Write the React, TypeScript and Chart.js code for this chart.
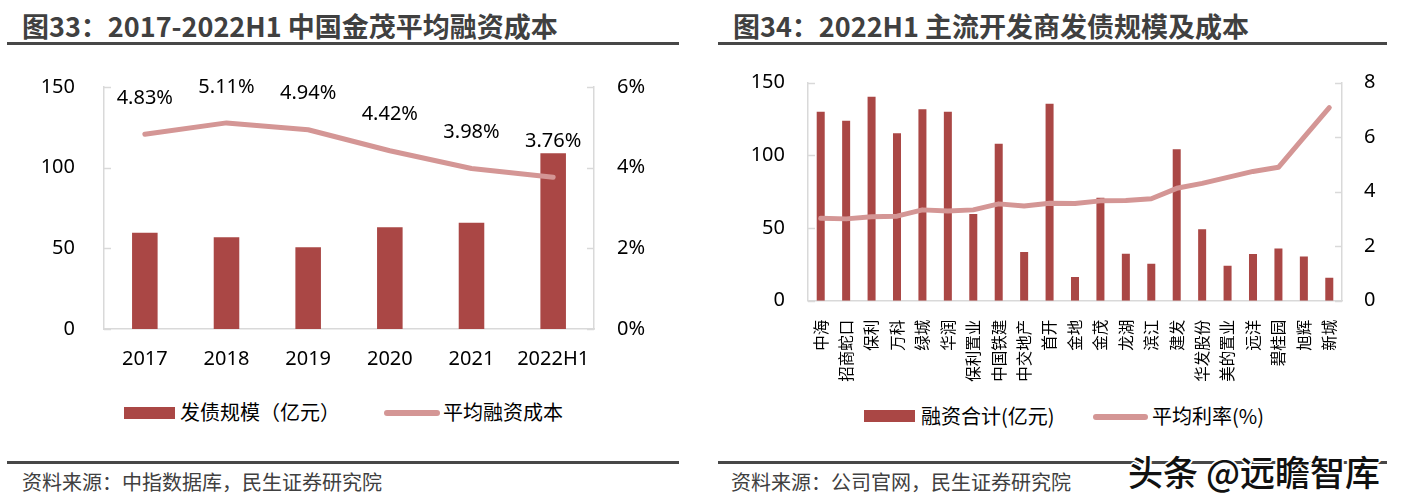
import React, { useEffect, useRef } from "react";
import { Chart, registerables } from "chart.js";

Chart.register(...registerables);

// ---------- Data ----------
const leftCategories = ["2017", "2018", "2019", "2020", "2021", "2022H1"];
const leftIssuance = [59.7, 56.8, 50.6, 63.0, 65.9, 108.9]; // 发债规模（亿元）
const leftCost = [4.83, 5.11, 4.94, 4.42, 3.98, 3.76]; // 平均融资成本 (%)

const rightCategories = [
  "中海", "招商蛇口", "保利", "万科", "绿城", "华润", "保利置业", "中国铁建",
  "中交地产", "首开", "金地", "金茂", "龙湖", "滨江", "建发", "华发股份",
  "美的置业", "远洋", "碧桂园", "旭辉", "新城",
];
const rightFinancing = [
  129.9, 123.7, 140.2, 115.1, 131.6, 129.9, 59.6, 107.9, 33.5, 135.4, 16.3,
  70.8, 32.3, 25.4, 104.1, 49.1, 24.1, 32.1, 35.8, 30.3, 15.8,
]; // 融资合计(亿元)
const rightRate = [
  3.02, 3.0, 3.08, 3.1, 3.33, 3.29, 3.33, 3.55, 3.47, 3.57, 3.56, 3.66, 3.67,
  3.74, 4.12, 4.3, 4.52, 4.74, 4.89, 5.99, 7.08,
]; // 平均利率(%)

const leftAxisMax = 150;
const leftAxisStep = 50;
const leftRightAxisMax = 6;
const leftRightAxisStep = 2;
const rightAxisMax = 150;
const rightAxisStep = 50;
const rightRightAxisMax = 8;
const rightRightAxisStep = 2;

// ---------- Styles ----------
const BAR = "#AA4745";
const LINE = "#D49695";
const AXIS = "#D9D9D9";
const NUM_FONT = "'Noto Sans', 'Noto Sans CJK SC', sans-serif";
const CJK_FONT = "'Noto Sans CJK SC', 'Noto Sans', sans-serif";

const innerTicks = {
  id: "innerTicks",
  afterDraw(chart: any) {
    const ctx = chart.ctx;
    ctx.save();
    ctx.strokeStyle = AXIS;
    ctx.lineWidth = 1.5;
    ["y", "y1"].forEach((id) => {
      const s = chart.scales[id];
      if (!s) return;
      const isLeft = s.position === "left";
      const x0 = isLeft ? s.right : s.left;
      const dir = isLeft ? 1 : -1;
      s.ticks.forEach((_t: any, i: number) => {
        const y = Math.round(s.getPixelForTick(i)) + 0.5;
        ctx.beginPath();
        ctx.moveTo(x0, y);
        ctx.lineTo(x0 + dir * 7, y);
        ctx.stroke();
      });
    });
    ctx.restore();
  },
};

const lineLabels = {
  id: "lineLabels",
  afterDatasetsDraw(chart: any) {
    const ds = chart.data.datasets;
    const idx = ds.findIndex((d: any) => d.type === "line");
    if (idx < 0 || !ds[idx].showValueLabels) return;
    const meta = chart.getDatasetMeta(idx);
    const ctx = chart.ctx;
    ctx.save();
    ctx.font = `20px ${NUM_FONT}`;
    ctx.fillStyle = "#000";
    ctx.textAlign = "center";
    ctx.textBaseline = "middle";
    meta.data.forEach((pt: any, i: number) => {
      ctx.fillText(ds[idx].data[i].toFixed(2) + "%", pt.x, pt.y - 36);
    });
    ctx.restore();
  },
};

function useChart(ref: React.RefObject<HTMLCanvasElement>, make: () => any) {
  useEffect(() => {
    if (!ref.current) return;
    const chart = new Chart(ref.current, make());
    return () => chart.destroy();
  }, []);
}

// fix the vertical axis width and drop the extra top/bottom padding Chart.js adds
const fixVertical = (w: number) => (s: any) => {
  s.width = w;
  s.paddingTop = 0;
  s.paddingBottom = 0;
};

function LeftChart() {
  const ref = useRef<HTMLCanvasElement>(null);
  useChart(ref, () => ({
    type: "bar",
    data: {
      labels: leftCategories,
      datasets: [
        {
          type: "line",
          label: "平均融资成本",
          data: leftCost,
          yAxisID: "y1",
          borderColor: LINE,
          backgroundColor: LINE,
          borderWidth: 5,
          borderCapStyle: "round",
          borderJoinStyle: "round",
          pointRadius: 0,
          tension: 0,
          order: 1,
          showValueLabels: true,
        },
        {
          type: "bar",
          label: "发债规模（亿元）",
          data: leftIssuance,
          yAxisID: "y",
          backgroundColor: BAR,
          barPercentage: 0.313,
          categoryPercentage: 1,
          order: 2,
        },
      ],
    },
    options: {
      responsive: false,
      animation: false,
      layout: { padding: { top: 27, left: 0, right: 0, bottom: 0 } },
      plugins: { legend: { display: false }, tooltip: { enabled: false } },
      scales: {
        x: {
          grid: { display: false, drawTicks: false },
          border: { display: true, color: AXIS, width: 1.5 },
          ticks: {
            color: "#000",
            padding: 18,
            maxRotation: 0,
            autoSkip: false,
            font: { family: NUM_FONT, size: 20 },
          },
          afterFit: (s: any) => {
            s.height = 61;
          },
        },
        y: {
          position: "left",
          min: 0,
          max: leftAxisMax,
          grid: { display: false, drawTicks: false },
          border: { display: true, color: AXIS, width: 1.5 },
          ticks: {
            stepSize: leftAxisStep,
            color: "#000",
            padding: 29,
            font: { family: NUM_FONT, size: 20 },
          },
          afterFit: fixVertical(104),
        },
        y1: {
          position: "right",
          min: 0,
          max: leftRightAxisMax,
          grid: { display: false, drawTicks: false },
          border: { display: true, color: AXIS, width: 1.5 },
          ticks: {
            stepSize: leftRightAxisStep,
            color: "#000",
            padding: 23,
            font: { family: NUM_FONT, size: 20 },
            callback: (v: any) => v + "%",
          },
          afterFit: fixVertical(106),
        },
      },
    },
    plugins: [innerTicks, lineLabels],
  }));
  return (
    <canvas
      ref={ref}
      width={700}
      height={330}
      style={{ position: "absolute", left: 0, top: 60, width: 700, height: 330 }}
    />
  );
}

function RightChart() {
  const ref = useRef<HTMLCanvasElement>(null);
  useChart(ref, () => ({
    type: "bar",
    data: {
      labels: rightCategories,
      datasets: [
        {
          type: "line",
          label: "平均利率(%)",
          data: rightRate,
          yAxisID: "y1",
          borderColor: LINE,
          backgroundColor: LINE,
          borderWidth: 5,
          borderCapStyle: "round",
          borderJoinStyle: "round",
          pointRadius: 0,
          tension: 0,
          order: 1,
        },
        {
          type: "bar",
          label: "融资合计(亿元)",
          data: rightFinancing,
          yAxisID: "y",
          backgroundColor: BAR,
          barPercentage: 0.315,
          categoryPercentage: 1,
          order: 2,
        },
      ],
    },
    options: {
      responsive: false,
      animation: false,
      layout: { padding: { top: 22.5, left: 0, right: 0, bottom: 0 } },
      plugins: { legend: { display: false }, tooltip: { enabled: false } },
      scales: {
        x: {
          grid: { display: false, drawTicks: false },
          border: { display: true, color: AXIS, width: 1.5 },
          ticks: {
            color: "#000",
            padding: 19,
            maxRotation: 90,
            minRotation: 90,
            autoSkip: false,
            font: { family: CJK_FONT, size: 15.5, lineHeight: 1.0 },
          },
          afterFit: (s: any) => {
            s.height = 89.3;
          },
        },
        y: {
          position: "left",
          min: 0,
          max: rightAxisMax,
          grid: { display: false, drawTicks: false },
          border: { display: true, color: AXIS, width: 1.5 },
          ticks: {
            stepSize: rightAxisStep,
            color: "#000",
            padding: 23,
            font: { family: NUM_FONT, size: 20 },
          },
          afterFit: fixVertical(108),
        },
        y1: {
          position: "right",
          min: 0,
          max: rightRightAxisMax,
          grid: { display: false, drawTicks: false },
          border: { display: true, color: AXIS, width: 1.5 },
          ticks: {
            stepSize: rightRightAxisStep,
            color: "#000",
            padding: 22,
            font: { family: NUM_FONT, size: 20 },
          },
          afterFit: fixVertical(59),
        },
      },
    },
    plugins: [innerTicks],
  }));
  return (
    <canvas
      ref={ref}
      width={701}
      height={330}
      style={{ position: "absolute", left: 700, top: 60, width: 701, height: 330 }}
    />
  );
}

function Text(props: {
  x: number;
  cy: number;
  size: number;
  text: string;
  color?: string;
  bold?: boolean;
  extra?: React.CSSProperties;
}) {
  const { x, cy, size, text, color = "#000", bold, extra } = props;
  return (
    <div
      style={{
        position: "absolute",
        left: x,
        top: cy - size * 0.556,
        fontSize: size,
        lineHeight: `${size}px`,
        height: size,
        fontFamily: CJK_FONT,
        fontWeight: bold ? 700 : 400,
        color,
        whiteSpace: "nowrap",
        ...extra,
      }}
    >
      {text}
    </div>
  );
}

function Rule(props: { x: number; y: number; w: number }) {
  return (
    <div
      style={{
        position: "absolute",
        left: props.x,
        top: props.y,
        width: props.w,
        height: 3,
        background: "#474747",
      }}
    />
  );
}

function Swatch(props: { x: number; cy: number; w: number; h: number; color: string; round?: boolean }) {
  return (
    <div
      style={{
        position: "absolute",
        left: props.x,
        top: props.cy - props.h / 2,
        width: props.w,
        height: props.h,
        background: props.color,
        borderRadius: props.round ? props.h / 2 : 0,
      }}
    />
  );
}

export default function App() {
  return (
    <div
      style={{
        position: "absolute",
        left: 0,
        top: 0,
        width: 1401,
        height: 504,
        background: "#fff",
        overflow: "hidden",
      }}
    >
      {/* Left panel */}
      <Text x={22} cy={27.5} size={27} bold color="#404040" text="图33：2017-2022H1 中国金茂平均融资成本" />
      <Rule x={7} y={42} w={672} />
      <LeftChart />
      <Swatch x={124} cy={413} w={51} h={12} color={BAR} />
      <Text x={180} cy={413} size={20} text="发债规模（亿元）" />
      <Swatch x={384} cy={413} w={56} h={6} color={LINE} round />
      <Text x={443} cy={413} size={20} text="平均融资成本" />
      <Rule x={7} y={461} w={672} />
      <Text x={22} cy={483} size={20} color="#404040" text="资料来源：中指数据库，民生证券研究院" />

      {/* Right panel */}
      <Text x={733} cy={27.5} size={27} bold color="#404040" text="图34：2022H1 主流开发商发债规模及成本" />
      <Rule x={718} y={42} w={669} />
      <RightChart />
      <Swatch x={864} cy={416} w={51} h={12} color={BAR} />
      <Text x={921} cy={417} size={20} text="融资合计(亿元)" />
      <Swatch x={1093} cy={416.5} w={55} h={6} color={LINE} round />
      <Text x={1152} cy={417} size={20} text="平均利率(%)" />
      <Rule x={718} y={461} w={669} />
      <Text x={731} cy={483} size={20} color="#404040" text="资料来源：公司官网，民生证券研究院" />
      <Text
        x={1128}
        cy={472}
        size={35}
        color="#111"
        text="头条 @远瞻智库"
        extra={{
          fontWeight: 500,
          textShadow:
            "1px 1px 0 #fff, -1px -1px 0 #fff, 1px -1px 0 #fff, -1px 1px 0 #fff, 2px 0 0 #fff, -2px 0 0 #fff, 0 2px 0 #fff, 0 -2px 0 #fff",
        }}
      />
    </div>
  );
}
